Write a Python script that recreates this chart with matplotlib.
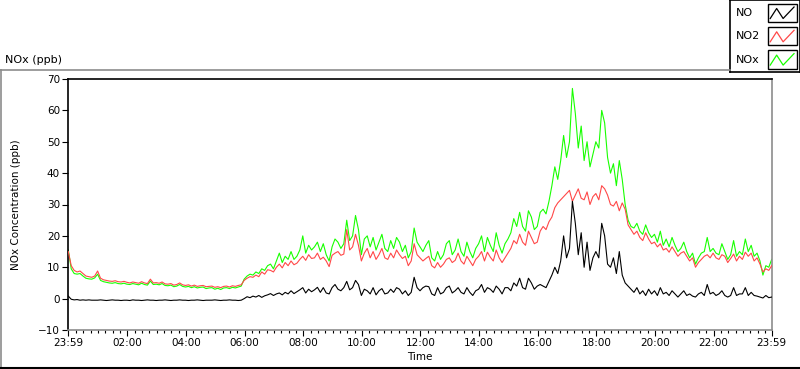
import numpy as np
import matplotlib
matplotlib.use('Agg')
import matplotlib.pyplot as plt
from matplotlib.lines import Line2D
from matplotlib.patches import Rectangle

# Valores, una muestra cada 6 minutos desde las 23:59
no2 = [
    15.0, 10.5, 9.0, 8.5, 8.8, 8.0, 7.2, 7.0, 6.8, 7.2,
    8.8, 6.5, 6.0, 5.8, 5.6, 5.5, 5.7, 5.4, 5.3, 5.5,
    5.2, 5.0, 5.3, 5.1, 4.9, 5.4, 5.0, 4.8, 6.2, 5.0,
    5.1, 4.9, 5.3, 4.7, 4.6, 4.8, 4.3, 4.5, 5.0, 4.4,
    4.2, 4.4, 4.0, 4.3, 3.9, 4.1, 4.2, 3.8, 3.9, 4.0,
    3.6, 3.8, 3.5, 3.9, 4.0, 3.7, 4.1, 3.9, 4.2, 4.4,
    5.8, 6.5, 7.0, 6.8, 7.5, 7.0, 8.5, 7.8, 9.2, 9.0,
    8.5, 10.0, 11.0, 9.8, 11.5, 10.5, 12.0, 10.8, 11.3, 12.5,
    13.5, 12.2, 14.0, 12.8, 13.0, 14.5, 12.5, 13.2, 12.0, 10.2,
    13.8, 14.5, 15.0, 13.8, 14.2, 22.0, 15.5, 16.5, 20.5, 17.0,
    12.0, 14.5, 16.0, 13.0, 15.0, 12.5, 14.0, 16.0, 13.0, 12.5,
    14.5, 13.0, 15.5, 14.0, 12.8, 13.5, 10.5, 12.0, 17.5, 14.0,
    13.0, 12.0, 12.8, 13.5, 10.5, 9.8, 11.5, 10.0, 11.0, 12.5,
    13.0, 11.5, 12.2, 14.5, 12.0, 11.0, 13.5, 12.0, 10.5, 12.5,
    13.5, 15.0, 12.0, 14.8, 13.2, 12.0, 15.5, 13.0, 11.5, 13.0,
    14.5, 16.0, 18.5, 17.5, 20.5, 18.0, 17.0, 21.5, 19.5, 17.5,
    18.0, 21.5, 23.0, 22.0, 24.5, 26.0, 29.0, 30.5, 31.5, 32.5,
    33.5, 34.5, 31.0, 33.0, 35.0, 32.0, 31.5, 34.0, 30.0, 32.5,
    33.5, 31.5, 36.0, 35.0, 33.0, 30.0, 29.5, 31.0, 28.0, 30.5,
    28.5, 23.5, 22.0, 20.5, 21.5, 19.5, 18.5, 21.0, 19.0, 17.5,
    18.0, 16.5, 17.5, 15.5, 16.0, 14.8, 16.5, 15.0, 13.5, 14.5,
    15.0, 13.5, 12.0, 13.0, 10.0, 11.5, 12.5, 13.5, 14.0, 13.0,
    14.5, 13.0, 12.5, 14.0, 13.5, 11.5, 12.8, 14.2, 12.0, 13.5,
    12.5, 14.8, 13.5, 14.5, 12.0, 13.0, 11.0, 8.5, 9.5, 9.0,
    10.5,
]

nox = [
    15.5, 9.5, 8.0, 7.8, 8.0, 7.2, 6.5, 6.3, 6.2, 6.6,
    7.8, 5.8, 5.4, 5.2, 5.0, 4.9, 5.1, 4.8, 4.7, 4.9,
    4.6, 4.5, 4.8, 4.6, 4.4, 4.9, 4.5, 4.3, 5.6, 4.5,
    4.6, 4.4, 4.8, 4.2, 4.1, 4.3, 3.8, 4.0, 4.5, 3.9,
    3.7, 3.9, 3.5, 3.8, 3.4, 3.6, 3.7, 3.2, 3.4, 3.5,
    3.0, 3.3, 2.9, 3.4, 3.5, 3.2, 3.6, 3.4, 3.7, 4.0,
    6.2, 7.2, 7.8, 7.5, 8.5, 8.0, 9.5, 9.0, 10.5, 11.0,
    9.5, 12.0, 14.5, 11.5, 13.5, 12.5, 15.0, 12.5, 13.5, 15.5,
    20.0, 14.5, 17.0, 15.5, 16.5, 18.0, 15.0, 17.5, 14.0, 12.0,
    16.5, 19.0, 18.0, 16.0, 17.5, 25.0, 18.5, 20.0, 26.5, 22.0,
    14.0, 19.0, 20.0, 16.5, 19.5, 15.5, 18.0, 20.5, 16.0, 15.0,
    18.5, 16.0, 19.5, 18.0, 15.0, 17.0, 13.0, 15.0, 22.5, 18.0,
    16.5, 15.0, 17.0, 18.5, 13.0, 12.0, 15.0, 12.5, 14.0, 17.5,
    18.5, 14.0, 15.5, 19.0, 15.0, 13.5, 18.0, 15.0, 13.0, 16.0,
    17.5, 20.0, 15.0, 19.5, 17.0, 15.0, 21.0, 17.0, 14.5, 17.5,
    19.0, 21.0, 25.5, 23.0, 27.5, 23.0, 21.5, 28.0, 26.0, 22.0,
    23.0, 27.5, 28.5, 27.0, 31.0, 36.0, 42.0, 38.0, 44.0, 52.0,
    45.0, 50.0, 67.0, 59.0, 48.0, 55.0, 44.0, 50.0, 42.0, 46.0,
    50.0, 48.0, 60.0, 56.0, 45.0, 40.0, 43.0, 36.0, 44.0, 38.0,
    30.0, 25.0, 23.0, 22.5, 24.0, 21.5, 20.5, 23.5, 21.0, 19.5,
    20.5, 18.0, 21.5, 17.0, 19.0, 16.5, 19.5, 17.0, 15.0, 16.0,
    18.0, 15.0, 13.0, 14.5, 11.0, 13.0, 14.5, 15.0, 19.5, 15.0,
    16.0, 14.5, 14.0, 17.5, 15.0, 12.5, 14.0, 18.5, 13.5, 15.0,
    14.0, 19.0, 15.0, 17.0, 13.5, 14.5, 12.0, 7.5, 10.5, 10.0,
    12.5,
]

no = [
    0.8, -0.2, -0.4, -0.3, -0.5, -0.4, -0.5, -0.4, -0.5, -0.5,
    -0.5, -0.4, -0.5, -0.6, -0.5, -0.4, -0.5, -0.5, -0.6, -0.5,
    -0.5, -0.6, -0.4, -0.5, -0.5, -0.6, -0.5, -0.4, -0.5, -0.5,
    -0.6, -0.5, -0.5, -0.4, -0.5, -0.6, -0.5, -0.5, -0.4, -0.5,
    -0.5, -0.6, -0.5, -0.5, -0.4, -0.5, -0.6, -0.5, -0.5, -0.5,
    -0.4, -0.5, -0.6, -0.5, -0.5, -0.4, -0.5, -0.5, -0.6, -0.5,
    0.0, 0.6, 0.3, 0.8, 0.5, 1.0, 0.4, 0.9, 1.2, 1.6,
    1.0, 1.5, 1.8, 1.2, 2.0, 1.5, 2.5, 1.6, 2.2, 2.8,
    3.5, 1.8, 3.0, 2.2, 2.8, 3.6, 2.0, 3.5, 1.8, 1.5,
    3.5, 4.5, 3.0, 2.5, 3.5, 5.5, 2.8, 3.5, 5.8, 4.5,
    1.0, 3.0, 2.5, 1.5, 3.5, 1.2, 2.5, 3.2, 1.5, 1.8,
    3.0, 2.0, 3.5, 3.0, 1.5, 2.5, 1.0, 2.0, 6.8, 3.5,
    2.5, 3.5, 4.0, 3.8, 1.5, 1.0, 3.5, 1.5, 2.0, 3.5,
    4.0, 1.8, 2.5, 3.5, 2.0, 1.5, 3.5, 2.0, 1.0, 2.5,
    3.0, 4.5, 2.0, 3.5, 3.0, 2.0, 4.0, 3.0, 1.5, 3.5,
    3.5, 2.5, 5.0, 4.0, 6.5, 3.5, 3.0, 6.5, 5.0, 3.0,
    4.0, 4.5, 4.0, 3.5, 5.5, 7.5, 10.0, 8.0, 12.0, 20.0,
    13.0, 16.0, 31.0, 24.0, 14.0, 21.0, 10.0, 18.0, 9.0, 13.0,
    15.0, 13.0, 24.0, 20.0, 11.0, 10.0, 13.0, 8.0, 15.0, 7.5,
    5.0, 4.0, 3.0, 2.0, 3.5, 1.5, 2.5, 1.0, 3.0, 1.5,
    2.5, 1.0, 3.5, 1.5, 2.0, 1.0, 2.5, 1.5, 0.5, 1.5,
    2.5, 1.0, 1.5, 0.8, 0.5, 1.5, 2.0, 1.0, 4.5, 1.5,
    2.0, 1.0, 1.5, 2.5, 1.0, 0.5, 1.0, 3.5, 1.0, 1.5,
    1.5, 3.5, 1.0, 2.0, 1.0, 0.8, 0.5, 0.2, 1.0, 0.3,
    0.5,
]

etiquetas_x = ['23:59', '02:00', '04:00', '06:00', '08:00', '10:00', '12:00',
               '14:00', '16:00', '18:00', '20:00', '22:00', '23:59']

# Eje de tiempo en horas desde las 23:59
horas = np.arange(len(no2)) * 0.1
pos_x = [0] + [h + 1 / 60 for h in range(2, 24, 2)] + [24]

plt.rcParams['font.family'] = 'DejaVu Sans'
fig = plt.figure(figsize=(8, 3.69), dpi=100)
ax = fig.add_axes([68.3 / 800, 1 - 330 / 369, 703.4 / 800, 251 / 369])

ax.plot(horas, nox, color='#18ff00', lw=0.8, zorder=2)
ax.plot(horas, no2, color='#ff4848', lw=0.8, zorder=3)
ax.plot(horas, no, color='black', lw=0.8, zorder=4)

ax.set_xlim(0, 24)
ax.set_ylim(-10, 70)
ax.set_yticks(range(-10, 71, 10))
ax.set_xticks(pos_x)
ax.set_xticklabels(etiquetas_x)
ax.set_xticks(np.arange(0.25 + 1 / 60, 24, 0.25), minor=True)
ax.tick_params(axis='both', labelsize=7.5, length=4, width=0.8, pad=2)
ax.tick_params(axis='x', which='minor', length=2.5, width=0.8)

ax.spines['top'].set_color('black')
ax.spines['left'].set_color('black')
ax.spines['bottom'].set_color('#8c8c8c')
ax.spines['right'].set_color('#8c8c8c')
for s in ax.spines.values():
    s.set_linewidth(1.2)

ax.set_xlabel('Time', fontsize=7.5, labelpad=3)
ax.set_ylabel('NOx Concentration (ppb)', fontsize=7.5)
ax.yaxis.set_label_coords(-47 / 703.4, 0.5)

# Marco exterior del panel
fig.add_artist(Line2D([0, 730 / 800], [1 - 69.5 / 369] * 2, color='#8c8c8c', lw=1.2))
fig.add_artist(Line2D([0.6 / 800] * 2, [1 - 69.5 / 369, 0], color='#8c8c8c', lw=1.2))
fig.add_artist(Line2D([0, 1], [1.2 / 369] * 2, color='black', lw=1.5))
fig.text(5 / 800, 1 - 60 / 369, 'NOx (ppb)', fontsize=8, va='center', ha='left')

# Leyenda estilo LabVIEW
lg = fig.add_axes([730 / 800, 1 - 72 / 369, 69.5 / 800, 72 / 369])
lg.set_xlim(0, 70)
lg.set_ylim(72, 0)
lg.set_xticks([])
lg.set_yticks([])
for s in lg.spines.values():
    s.set_color('black')
    s.set_linewidth(1.2)
nombres = ['NO', 'NO2', 'NOx']
colores = ['black', '#ff4848', '#18ff00']
for i, (nombre, col) in enumerate(zip(nombres, colores)):
    y0 = 3.5 + i * 23.3
    lg.text(6, y0 + 9.5, nombre, fontsize=8, va='center', ha='left')
    lg.add_patch(Rectangle((38, y0), 29, 18.5, fill=False, ec='black', lw=1))
    lg.plot([40.5, 47, 53.5, 64.5], [y0 + 15, y0 + 5, y0 + 15, y0 + 3.5], color=col, lw=0.9)

fig.savefig('out.png', dpi=100)
